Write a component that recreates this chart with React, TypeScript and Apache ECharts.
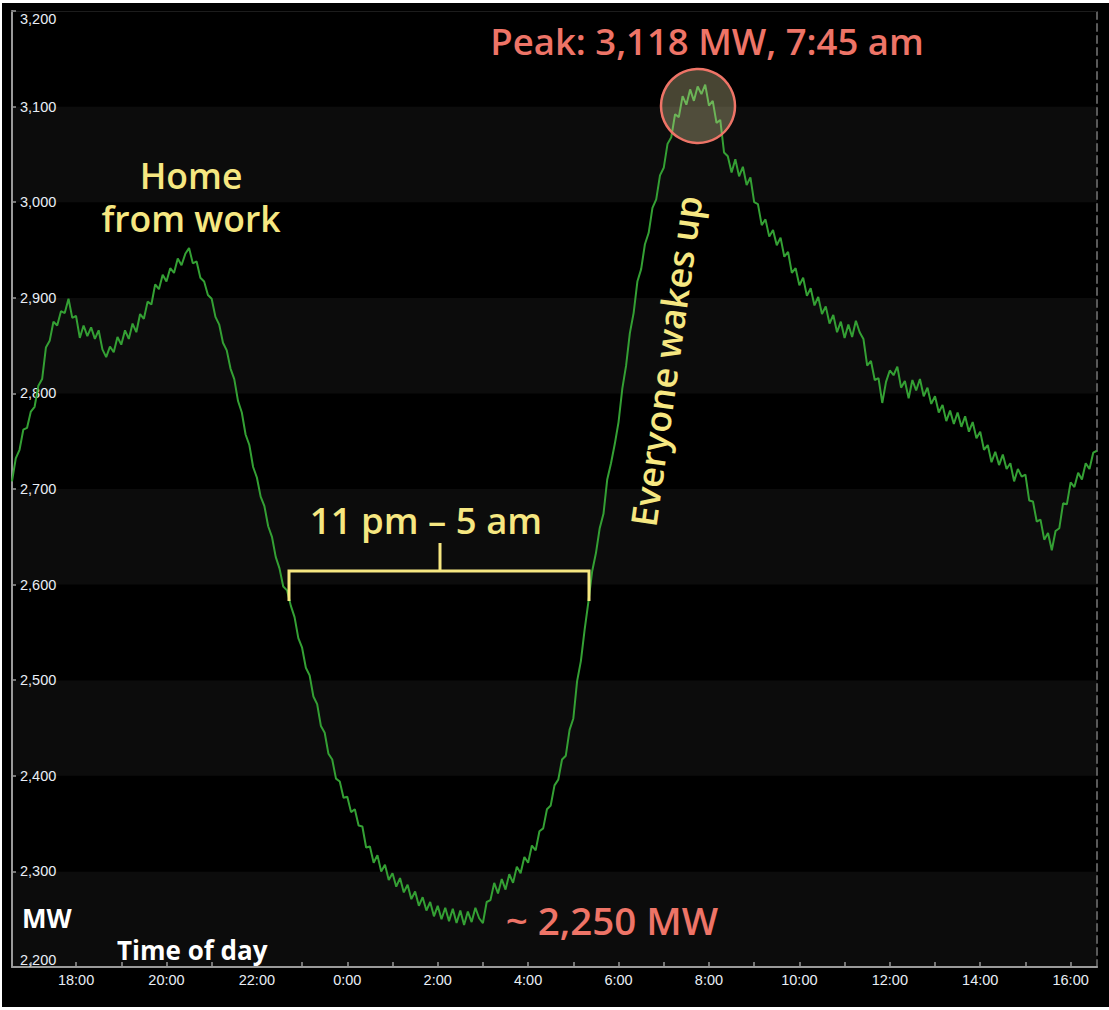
import React, { useEffect, useRef } from "react";
import * as echarts from "echarts";

// Time axis: hours relative to midnight; series starts at 16:35 the previous day
const startHour = -7 - 25 / 60;
const endHour = 16 + 35 / 60;
const stepMinutes = 5;

// Load in MW, one value every 5 minutes
const eveningLoad = [
  2708, 2732, 2741, 2762, 2764, 2781, 2786, 2808, 2815, 2848,
  2855, 2875, 2871, 2886, 2884, 2899, 2879, 2881, 2858, 2871,
  2860, 2869, 2857, 2866, 2846, 2838, 2849, 2843, 2859, 2851,
  2866, 2857, 2873, 2864, 2883, 2878, 2896, 2893, 2914, 2909,
  2924, 2917, 2931, 2926, 2941, 2934, 2946, 2952, 2936, 2938,
  2921, 2917, 2903, 2899, 2880, 2872, 2853, 2845, 2826, 2815,
];
const nightLoad = [
  2792, 2780, 2757, 2746, 2723, 2712, 2692, 2682, 2661, 2650,
  2629, 2617, 2598, 2594, 2578, 2566, 2544, 2534, 2513, 2505,
  2483, 2475, 2452, 2445, 2423, 2417, 2397, 2394, 2377, 2378,
  2362, 2365, 2348, 2347, 2325, 2326, 2309, 2317, 2300, 2307,
  2291, 2298, 2284, 2293, 2278, 2286, 2271, 2279, 2264, 2273,
  2259, 2268, 2253, 2264, 2250, 2262, 2248, 2261, 2246, 2259,
  2244, 2258, 2247, 2262, 2251, 2246, 2268, 2270, 2288, 2277,
  2292, 2281, 2297, 2288, 2305, 2298, 2315, 2309, 2327, 2322,
  2342, 2345, 2365, 2369,
];
const morningLoad = [
  2390, 2396, 2417, 2421, 2448, 2460, 2499, 2520, 2553, 2582,
  2614, 2633, 2659, 2674, 2710, 2727, 2747, 2770, 2805, 2829,
  2863, 2884, 2917, 2930, 2956, 2968, 2994, 3003, 3028, 3036,
  3061, 3068, 3092, 3089, 3111, 3102, 3118, 3106, 3121, 3113,
  3123, 3101, 3106, 3083, 3086, 3052, 3048, 3031, 3045, 3027,
  3037, 3018, 3026, 3000, 2998, 2976, 2982, 2964, 2971, 2955,
];
const afternoonLoad = [
  2963, 2943, 2948, 2926, 2931, 2913, 2921, 2902, 2910, 2892,
  2901, 2883, 2891, 2873, 2882, 2864, 2875, 2858, 2872, 2859,
  2876, 2864, 2857, 2829, 2834, 2814, 2816, 2790, 2812, 2824,
  2819, 2828, 2806, 2813, 2795, 2814, 2803, 2815, 2797, 2806,
  2789, 2797, 2780, 2788, 2771, 2782, 2768, 2780, 2765, 2776,
  2760, 2770, 2753, 2760, 2741, 2746, 2728, 2739, 2725, 2736,
  2721, 2727, 2708, 2721, 2713, 2715, 2688, 2687, 2666, 2668,
  2647, 2654, 2636, 2656, 2659, 2685, 2684, 2707, 2702, 2717,
  2710, 2727, 2721, 2738, 2740,
];

const hourTicks = [-7, -6, -5, -4, -3, -2, -1, 0, 1, 2, 3, 4, 5, 6, 7, 8, 9, 10, 11, 12, 13, 14, 15, 16];
const hourLabels = [-6, -4, -2, 0, 2, 4, 6, 8, 10, 12, 14, 16];

const yMin = 2200;
const yMax = 3200;
const yStep = 100;

const peakText = "Peak: 3,118 MW, 7:45 am";
const lowText = "~ 2,250 MW";
const nightText = "11 pm – 5 am";
const homeText = ["Home", "from work"];
const wakeText = "Everyone wakes up";

const YELLOW = "#f6e781";
const SALMON = "#ee7467";
const AXIS_TEXT = "#e8eef6";

export default function App() {
  const ref = useRef<HTMLDivElement>(null);

  useEffect(() => {
    if (!ref.current) return;
    const chart = echarts.init(ref.current, null, { renderer: "svg" });
    const load = [...eveningLoad, ...nightLoad, ...morningLoad, ...afternoonLoad];
    const points = load.map((v, i) => [startHour + (i * stepMinutes) / 60, v]);
    const fmtHour = (v: number) => {
      const h = ((Math.round(v) % 24) + 24) % 24;
      return `${h}:00`;
    };
    const labelFont = "'Liberation Sans', Arial, sans-serif";
    const annFont = "'Open Sans', Lato, sans-serif";
    const ann = (size: number) => `600 ${size}px ${annFont}`;

    chart.setOption({
      animation: false,
      backgroundColor: "#000000",
      grid: { left: 10, top: 8, width: 1085, height: 956, containLabel: false },
      xAxis: [
        {
          type: "value",
          min: startHour,
          max: endHour,
          axisLine: { show: true, onZero: false, lineStyle: { color: "#9a9a9a", width: 2 } },
          axisTick: {
            show: true,
            inside: true,
            length: 5,
            customValues: hourTicks,
            lineStyle: { color: "#9a9a9a", width: 1.5 },
          },
          axisLabel: {
            show: true,
            customValues: hourLabels,
            formatter: fmtHour,
            color: AXIS_TEXT,
            fontFamily: labelFont,
            fontSize: 14.5,
            margin: 5,
          },
          splitLine: { show: false },
        },
        {
          type: "value",
          position: "top",
          min: startHour,
          max: endHour,
          axisLine: { show: true, onZero: false, lineStyle: { color: "#1c1c1c", width: 1 } },
          axisTick: { show: false },
          axisLabel: { show: false },
          splitLine: { show: false },
        },
      ],
      yAxis: [
        {
          type: "value",
          position: "left",
          min: yMin,
          max: yMax,
          interval: yStep,
          axisLine: { show: true, onZero: false, lineStyle: { color: "#9a9a9a", width: 2 } },
          axisTick: { show: true, inside: true, length: 4, lineStyle: { color: "#9a9a9a", width: 1.5 } },
          axisLabel: {
            inside: true,
            margin: 8,
            color: AXIS_TEXT,
            fontFamily: labelFont,
            fontSize: 14.5,
            verticalAlignMinLabel: "bottom",
            verticalAlignMaxLabel: "top",
            formatter: (v: number) => v.toLocaleString("en-US"),
          },
          splitLine: { show: false },
          splitArea: { show: true, areaStyle: { color: ["#0c0c0c", "#000000"] } },
        },
        {
          type: "value",
          position: "right",
          min: yMin,
          max: yMax,
          interval: yStep,
          axisLine: { show: true, onZero: false, lineStyle: { color: "#5a5a5a", width: 2, type: [7, 5] } },
          axisTick: { show: false },
          axisLabel: { show: false },
          splitLine: { show: false },
        },
      ],
      series: [
        {
          type: "line",
          data: points,
          showSymbol: false,
          symbol: "none",
          lineStyle: { color: "#34a034", width: 2 },
          z: 3,
        },
      ],
      graphic: [
        {
          type: "circle",
          shape: { cx: 696, cy: 103, r: 37 },
          style: { fill: "rgba(240,230,170,0.30)", stroke: SALMON, lineWidth: 2.5 },
          z: 100,
        },
        {
          type: "text",
          x: 705,
          y: 38,
          style: { text: peakText, fill: SALMON, font: ann(36.5), textAlign: "center", textVerticalAlign: "middle" },
          z: 100,
        },
        {
          type: "text",
          x: 189,
          y: 193,
          style: {
            text: homeText.join("\n"),
            fill: YELLOW,
            font: ann(35.5),
            lineHeight: 43,
            textAlign: "center",
            textVerticalAlign: "middle",
          },
          z: 100,
        },
        {
          type: "text",
          x: 424,
          y: 517,
          style: { text: nightText, fill: YELLOW, font: ann(36.5), textAlign: "center", textVerticalAlign: "middle" },
          z: 100,
        },
        {
          type: "polyline",
          shape: { points: [[287, 598], [287, 568], [587, 568], [587, 598]] },
          style: { stroke: YELLOW, lineWidth: 3, fill: null },
          z: 100,
        },
        {
          type: "line",
          shape: { x1: 438, y1: 568, x2: 438, y2: 540 },
          style: { stroke: YELLOW, lineWidth: 3 },
          z: 100,
        },
        {
          type: "text",
          x: 664,
          y: 358,
          rotation: (82 * Math.PI) / 180,
          style: { text: wakeText, fill: YELLOW, font: ann(36), textAlign: "center", textVerticalAlign: "middle" },
          z: 100,
        },
        {
          type: "text",
          x: 610,
          y: 917,
          style: { text: lowText, fill: SALMON, font: ann(38.5), textAlign: "center", textVerticalAlign: "middle" },
          z: 100,
        },
        {
          type: "text",
          x: 20,
          y: 915,
          style: { text: "MW", fill: "#ffffff", font: `bold 26px ${annFont}`, textAlign: "left", textVerticalAlign: "middle" },
          z: 100,
        },
        {
          type: "text",
          x: 115,
          y: 947,
          style: { text: "Time of day", fill: "#ffffff", font: `bold 26px ${annFont}`, textAlign: "left", textVerticalAlign: "middle" },
          z: 100,
        },
      ],
    });

    return () => chart.dispose();
  }, []);

  return (
    <div
      ref={ref}
      style={{ position: "absolute", left: 2, top: 3, width: 1107, height: 1004, background: "#000" }}
    />
  );
}
